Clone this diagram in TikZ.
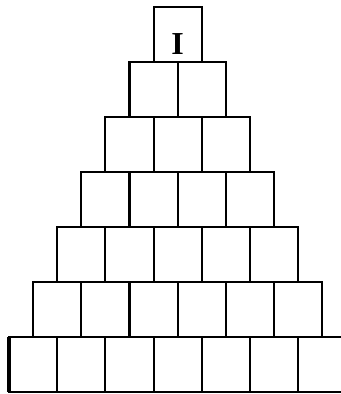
\documentclass[tikz,border=0pt]{standalone}
\usepackage{fontspec}
\setmainfont{Liberation Serif}
\begin{document}
\begin{tikzpicture}[x=0.75pt,y=-0.75pt,
  brick/.style={draw=black, line width=1.6pt, rectangle, minimum width=36.15pt, minimum height=41.25pt, inner sep=0pt, outer sep=0pt},
  lbl/.style={font=\fontsize{24}{24}\selectfont\bfseries, inner sep=0pt}]
\useasboundingbox (0,0) rectangle (341,394);
\clip (0,0) rectangle (341,394);
\foreach \k in {1,...,7}{
  \foreach \j in {1,...,\k}{
    \node[brick] (b\k-\j) at ({177.7+(\j-(\k+1)/2)*48.2}, {6.7+(\k-1)*55+27.5}) {};
  }
}
\draw[line width=2.4pt] (b7-1.north west) -- (b7-1.south west);
\node[lbl] (lab) at (177.7,44) {I};
\end{tikzpicture}
\end{document}
